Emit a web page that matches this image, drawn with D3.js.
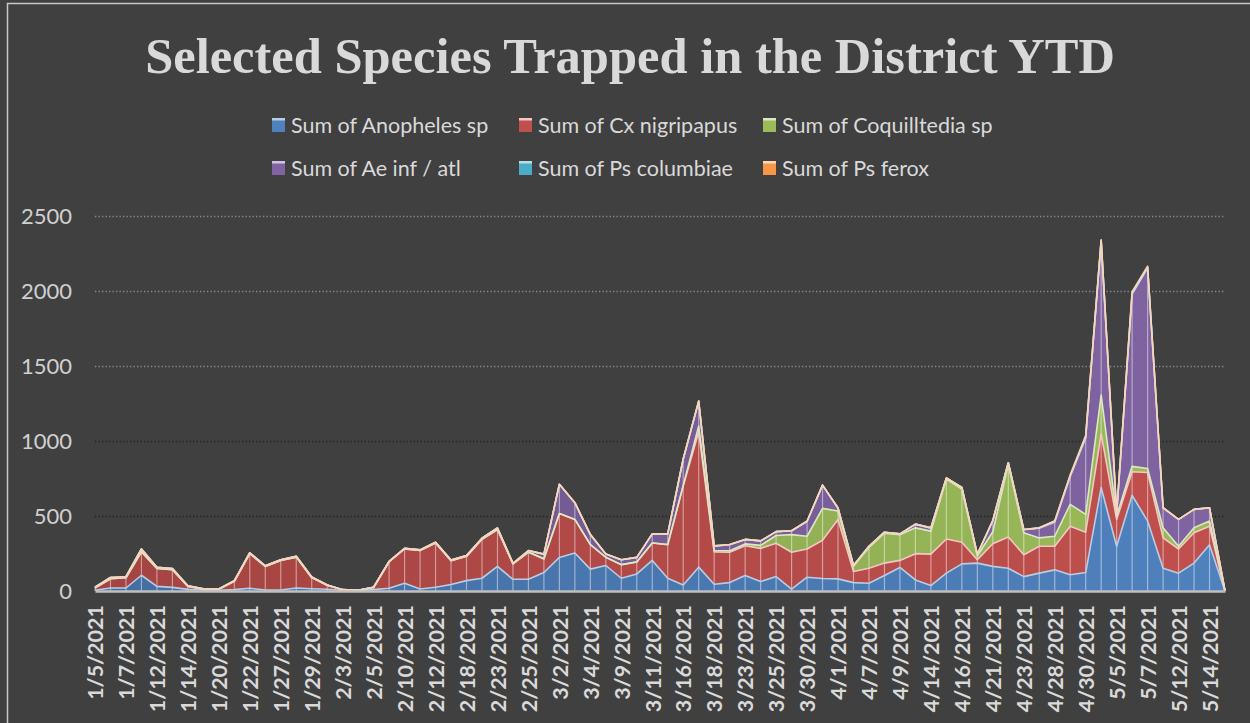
<!DOCTYPE html>
<html lang="en">
<head>
  <meta charset="UTF-8">
  <title>Selected Species Trapped in the District YTD</title>
  <style>
    body { margin: 0; background: #404040; }
    svg { display: block; background: #404040; }
    text { fill: #d9d9d9; }
  </style>
</head>
<body>
  <svg width="1250" height="723"></svg>
  <script src="https://cdnjs.cloudflare.com/ajax/libs/d3/7.8.5/d3.min.js"></script>
  <script>
    var dates = ['1/5/2021','1/6/2021','1/7/2021','1/11/2021','1/12/2021','1/13/2021','1/14/2021','1/19/2021',
      '1/20/2021','1/21/2021','1/22/2021','1/26/2021','1/27/2021','1/28/2021','1/29/2021','2/2/2021',
      '2/3/2021','2/4/2021','2/5/2021','2/9/2021','2/10/2021','2/11/2021','2/12/2021','2/17/2021',
      '2/18/2021','2/22/2021','2/23/2021','2/24/2021','2/25/2021','3/1/2021','3/2/2021','3/3/2021',
      '3/4/2021','3/8/2021','3/9/2021','3/10/2021','3/11/2021','3/15/2021','3/16/2021','3/17/2021',
      '3/18/2021','3/22/2021','3/23/2021','3/24/2021','3/25/2021','3/29/2021','3/30/2021','3/31/2021',
      '4/1/2021','4/6/2021','4/7/2021','4/8/2021','4/9/2021','4/13/2021','4/14/2021','4/15/2021',
      '4/16/2021','4/20/2021','4/21/2021','4/22/2021','4/23/2021','4/27/2021','4/28/2021','4/29/2021',
      '4/30/2021','5/3/2021','5/5/2021','5/6/2021','5/7/2021','5/11/2021','5/12/2021','5/13/2021',
      '5/14/2021','5/17/2021'];

    var anopheles = [5,20,20,105,31,24,11,5, 5,9,18,7,7,20,15,12, 3,2,9,18,52,13,25,43,
      69,85,164,78,78,123,224,253, 146,170,85,114,204,85,40,159, 45,56,103,63,96,12,92,83,
      81,56,52,103,157,74,36,119, 181,186,164,152,96,119,141,108, 123,690,298,638,466,152,119,186,
      309,0];
    var nigripapus = [15,62,68,155,119,118,20,7, 7,56,231,157,197,206,74,26, 5,3,15,177,228,257,295,159,
      162,260,246,103,180,90,293,224, 163,54,90,79,116,224,661,901, 215,202,199,221,222,246,188,255,
      396,74,100,83,47,175,210,228, 144,22,151,208,146,179,157,324, 269,358,179,157,324,202,161,202,
      123,0];
    var coquilltedia = [0,0,0,2,0,0,0,0, 0,0,0,0,0,0,0,0, 0,0,0,0,0,0,0,0,
      0,0,0,0,2,2,0,0, 1,1,1,1,0,1,2,40, 8,10,12,20,52,118,85,213,
      56,35,138,199,171,172,153,399, 354,27,80,485,146,56,67,146, 119,258,23,36,27,67,18,33,
      34,0];
    var aeInfAtl = [5,8,7,18,8,8,4,2, 2,3,6,4,4,6,4,2, 1,0,1,3,5,4,5,4,
      5,7,10,4,8,31,195,112, 66,21,32,30,61,71,177,166, 30,40,30,30,26,26,100,155,
      20,5,8,7,6,23,22,7, 11,10,75,10,20,64,93,186, 510,1030,20,1150,1338,134,179,123,
      89,0];
    var columbiae = [0,0,0,0,0,0,0,0, 0,0,0,0,0,0,0,0, 0,0,0,0,0,0,0,0,
      0,0,0,0,2,0,0,0, 0,0,0,0,0,0,0,0, 3,2,0,0,0,0,0,0,
      0,0,0,0,0,2,0,0, 0,0,0,0,2,3,8,4, 3,0,0,0,0,0,0,0,
      0,0];
    var ferox = [0,0,0,0,0,0,0,0, 0,0,0,0,0,0,0,0, 0,0,0,0,0,0,0,0,
      0,0,0,0,0,0,0,0, 0,0,0,0,0,0,0,0, 0,0,0,0,0,0,0,0,
      0,0,0,0,0,0,0,0, 0,0,0,0,0,0,0,6, 12,5,0,15,10,0,0,0,
      0,0];

    var seriesNames = ['Sum of Anopheles sp', 'Sum of Cx nigripapus', 'Sum of Coquilltedia sp',
      'Sum of Ae inf / atl', 'Sum of Ps columbiae', 'Sum of Ps ferox'];
    var seriesValues = [anopheles, nigripapus, coquilltedia, aeInfAtl, columbiae, ferox];
    var colors = ['#4f81bd', '#c0504d', '#9bbb59', '#8064a2', '#4bacc6', '#f79646'];
    var edges = ['#b9cde5', '#f2c8c6', '#dbe8c2', '#d0c4e0', '#b7dee8', '#fcd5b5'];
    var yTicks = [0, 500, 1000, 1500, 2000, 2500];

    var width = 1250, height = 723;
    var svg = d3.select('svg');

    // frame
    svg.append('rect')
      .attr('x', 7.5).attr('y', 3.5)
      .attr('width', 1260).attr('height', 740)
      .attr('fill', '#404040')
      .attr('stroke', '#c8c8c8').attr('stroke-width', 1.5);

    var rows = dates.map(function(d, i) {
      var r = {date: d};
      seriesNames.forEach(function(n, k) { r[n] = seriesValues[k][i]; });
      return r;
    });

    var x = d3.scalePoint().domain(dates).range([95, 1225]);
    var y = d3.scaleLinear().domain([0, 2500]).range([591, 216]);

    // gradients, darker on the left
    var defs = svg.append('defs');
    colors.forEach(function(c, k) {
      var g = defs.append('linearGradient')
        .attr('id', 'grad' + k)
        .attr('gradientUnits', 'userSpaceOnUse')
        .attr('x1', 95).attr('x2', 1225).attr('y1', 0).attr('y2', 0);
      g.append('stop').attr('offset', '0%').attr('stop-color', d3.color(c).darker(0.45));
      g.append('stop').attr('offset', '100%').attr('stop-color', c);
    });

    // gridlines
    svg.append('g')
      .selectAll('line')
      .data(yTicks.slice(1))
      .enter()
      .append('line')
        .attr('x1', 95).attr('x2', 1225)
        .attr('y1', function(d) { return y(d) + 0.5; })
        .attr('y2', function(d) { return y(d) + 0.5; })
        .attr('stroke', function(d) { return d <= 1000 ? '#222' : '#8a8a8a'; })
        .attr('stroke-width', 1.3)
        .attr('stroke-dasharray', '1.3,2.2');

    var stack = d3.stack().keys(seriesNames);
    var layers = stack(rows);

    var area = d3.area()
      .x(function(d) { return x(d.data.date); })
      .y0(function(d) { return y(d[0]); })
      .y1(function(d) { return y(d[1]); });

    var topLine = d3.line()
      .x(function(d) { return x(d.data.date); })
      .y(function(d) { return y(d[1]); });

    var plot = svg.append('g');
    plot.selectAll('path.area')
      .data(layers)
      .enter()
      .append('path')
        .attr('class', 'area')
        .attr('d', area)
        .attr('fill', function(d, i) { return 'url(#grad' + i + ')'; });

    // drop lines at each point
    plot.selectAll('line.drop')
      .data(rows)
      .enter()
      .append('line')
        .attr('class', 'drop')
        .attr('x1', function(d) { return x(d.date); })
        .attr('x2', function(d) { return x(d.date); })
        .attr('y1', y(0))
        .attr('y2', function(d) {
          return y(d3.sum(seriesNames, function(n) { return d[n]; }));
        })
        .attr('stroke', '#ffffff')
        .attr('stroke-opacity', 0.45)
        .attr('stroke-width', 1.2);

    plot.selectAll('path.edge')
      .data(layers)
      .enter()
      .append('path')
        .attr('class', 'edge')
        .attr('d', topLine)
        .attr('fill', 'none')
        .attr('stroke', function(d, i) { return edges[i]; })
        .attr('stroke-width', 1.6)
        .attr('stroke-linejoin', 'round');

    // x axis
    var xAxis = svg.append('g')
      .attr('transform', 'translate(0,' + y(0) + ')')
      .call(d3.axisBottom(x)
        .tickValues(dates.filter(function(d, i) { return i % 2 === 0; }))
        .tickSize(0));
    xAxis.select('.domain').attr('stroke', '#bfbfbf').attr('stroke-width', 2.5);
    xAxis.selectAll('text')
      .attr('transform', 'rotate(-90)')
      .attr('text-anchor', 'end')
      .attr('x', -14)
      .attr('y', 0)
      .attr('dy', '0.36em')
      .style('font-family', 'Lato, "Open Sans", sans-serif')
      .style('font-weight', 'bold')
      .style('font-size', '21.5px')
      .style('fill', '#d9d9d9');

    // y axis
    var yAxis = svg.append('g')
      .attr('transform', 'translate(72,0)')
      .call(d3.axisLeft(y).tickValues(yTicks).tickFormat(d3.format('d')).tickSize(0).tickPadding(0));
    yAxis.select('.domain').remove();
    yAxis.selectAll('text')
      .style('font-family', 'Lato, "Open Sans", sans-serif')
      .style('font-size', '22px')
      .style('fill', '#d0d0d0');

    // title
    var title = svg.append('text')
      .attr('x', 630).attr('y', 73)
      .attr('text-anchor', 'middle')
      .style('font-family', '"Liberation Serif", "DejaVu Serif", serif')
      .style('font-weight', 'bold')
      .style('font-size', '50px')
      .style('fill', '#d9d9d9')
      .text('Selected Species Trapped in the District YTD');
    var tw = title.node().getComputedTextLength();
    title.style('font-size', (50 * 970 / tw) + 'px');

    // legend
    var legendPos = [[272, 125], [519, 125], [763, 125], [272, 168], [519, 168], [763, 168]];
    var legend = svg.append('g')
      .selectAll('g')
      .data(seriesNames)
      .enter()
      .append('g')
        .attr('transform', function(d, i) {
          return 'translate(' + legendPos[i][0] + ',' + legendPos[i][1] + ')';
        });
    legend.append('rect')
      .attr('x', 0).attr('y', -7)
      .attr('width', 13).attr('height', 14)
      .attr('fill', function(d, i) { return colors[i]; });
    legend.append('rect')
      .attr('x', 0).attr('y', -7)
      .attr('width', 13).attr('height', 2.5)
      .attr('fill', function(d, i) { return edges[i]; });
    legend.append('text')
      .attr('x', 19).attr('y', 0)
      .attr('dy', '0.36em')
      .style('font-family', 'Lato, "Open Sans", sans-serif')
      .style('font-size', '21.5px')
      .style('fill', '#d9d9d9')
      .text(function(d) { return d; });
  </script>
</body>
</html>
